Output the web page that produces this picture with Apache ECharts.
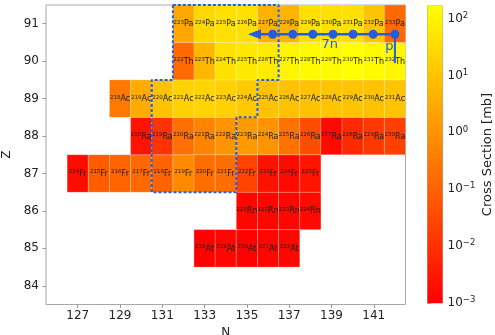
<!DOCTYPE html>
<html>
<head>
<meta charset="utf-8">
<script src="https://cdn.jsdelivr.net/npm/echarts@6/dist/echarts.min.js"></script>
<style>
  html, body { margin: 0; padding: 0; background: #fff; }
  #chart { width: 495px; height: 335px; }
</style>
</head>
<body>
<div id="chart"></div>
<script>
// Nuclide rows: element symbol, proton number Z, first neutron number N of the row,
// and the production cross sections [mb] for consecutive N.
const elements = ['At', 'Rn', 'Fr', 'Ra', 'Ac', 'Th', 'Pa'];
const protonNumbers = [85, 86, 87, 88, 89, 90, 91];
const firstNeutron = [133, 135, 127, 130, 129, 132, 132];

const sigmaAt = [0.0011, 0.0013, 0.0011, 0.0013, 0.0013];
const sigmaRn = [0.0013, 0.0014, 0.0013, 0.0016];
const sigmaFr = [0.0018, 0.076, 0.11, 0.14, 0.11, 0.66, 0.16, 0.18, 0.023, 0.0023, 0.0016, 0.0026];
const sigmaRa = [0.0023, 0.011, 0.20, 0.52, 1.07, 1.36, 1.07, 0.22, 0.037, 0.0016, 0.0068, 0.014, 0.020];
const sigmaAc = [0.28, 3.1, 9.3, 19, 21.5, 19, 13.3, 9.3, 9.3, 9.3, 10.5, 10.5, 9.3, 10.5];
const sigmaTh = [0.14, 5.7, 39, 56, 63, 103, 130, 130, 166, 130, 116];
const sigmaPa = [2.5, 27, 39, 39, 4.5, 5.1, 39, 39, 39, 10.5, 0.14];
const sigmaRows = [sigmaAt, sigmaRn, sigmaFr, sigmaRa, sigmaAc, sigmaTh, sigmaPa];

// Axis ticks and colour scale range
const nTicks = [127, 129, 131, 133, 135, 137, 139, 141];
const zTicks = [84, 85, 86, 87, 88, 89, 90, 91];
const cbTicks = [1e-3, 1e-2, 1e-1, 1, 10, 100];
const cbMin = 1e-3;
const cbMax = 166;

// Highlighted region outline, along cell boundaries
const outlineN = [131.5, 136.5, 136.5, 135.5, 135.5, 134.5, 134.5, 130.5, 130.5, 131.5, 131.5];
const outlineZ = [91.5, 91.5, 89.5, 89.5, 88.5, 88.5, 86.5, 86.5, 89.5, 89.5, 91.5];

// 233Pa decay path: neutron steps (7n) and the proton leg (p)
const chainN = [142, 140.97, 140.02, 139.07, 138.12, 137.17, 136.22];
const chainZ = 90.72;
const arrowTipN = 135.05;
const protonLegZ = 89.95;
const noteText = ['7n', 'p'];
const noteN = [138.92, 141.74];
const noteZ = [90.44, 90.385];

const BLUE = '#2060e0';
const FONT = 'DejaVu Sans';

// Flatten rows into cells: [N, Z, sigma, massNumber, symbol]
const cells = [];
sigmaRows.forEach((row, i) => {
  row.forEach((s, j) => {
    const n = firstNeutron[i] + j;
    const z = protonNumbers[i];
    cells.push([n, z, s, n + z, elements[i]]);
  });
});

// matplotlib "autumn" colormap on a log10 scale
const lgMin = Math.log10(cbMin), lgMax = Math.log10(cbMax);
function autumn(v) {
  let t = (Math.log10(v) - lgMin) / (lgMax - lgMin);
  t = Math.max(0, Math.min(1, t));
  return 'rgb(255,' + Math.round(255 * t) + ',0)';
}

function supLabel(v) {
  const e = Math.round(Math.log10(v));
  return '{b|10}{s|' + (e < 0 ? '\u2212' + (-e) : e) + '}';
}

const chart = echarts.init(document.getElementById('chart'), null, { renderer: 'canvas' });

const axisTickStyle = { show: true, inside: false, length: 3.5, lineStyle: { color: '#999', width: 1 } };

chart.setOption({
  animation: false,
  textStyle: { fontFamily: FONT },
  grid: [
    { left: 46, top: 5, width: 359.5, height: 299.5, outerBoundsMode: 'none', containLabel: false,
      show: true, borderColor: '#a8a8a8', borderWidth: 1, backgroundColor: '#fff' },
    { left: 427.5, top: 6, width: 15, height: 297, outerBoundsMode: 'none', containLabel: false,
      show: true, borderColor: '#a8a8a8', borderWidth: 1 }
  ],
  xAxis: [
    {
      gridIndex: 0, type: 'value', min: 125.5, max: 142.5,
      name: 'N', nameLocation: 'middle', nameGap: 15,
      nameTextStyle: { fontSize: 12, color: '#222', fontFamily: FONT },
      axisLine: { show: false }, splitLine: { show: false },
      axisTick: Object.assign({ customValues: nTicks }, axisTickStyle),
      axisLabel: { customValues: nTicks, fontSize: 12, color: '#222', margin: 5, fontFamily: FONT }
    },
    { gridIndex: 1, type: 'value', min: 0, max: 1, show: false }
  ],
  yAxis: [
    {
      gridIndex: 0, type: 'value', min: 83.5, max: 91.5,
      name: 'Z', nameLocation: 'middle', nameGap: 21, nameRotate: 90,
      nameTextStyle: { fontSize: 12, color: '#222', fontFamily: FONT },
      axisLine: { show: false }, splitLine: { show: false },
      axisTick: Object.assign({ customValues: zTicks }, axisTickStyle),
      axisLabel: { customValues: zTicks, fontSize: 12, color: '#222', margin: 7, fontFamily: FONT }
    },
    {
      gridIndex: 1, type: 'log', logBase: 10, min: cbMin, max: cbMax, position: 'right',
      name: 'Cross Section [mb]', nameLocation: 'middle', nameGap: 39, nameRotate: 90,
      nameTextStyle: { fontSize: 13, color: '#222', fontFamily: FONT },
      axisLine: { show: false }, splitLine: { show: false },
      axisTick: Object.assign({ customValues: cbTicks }, axisTickStyle),
      axisLabel: {
        customValues: cbTicks, margin: 5, formatter: supLabel,
        rich: {
          b: { fontSize: 12, lineHeight: 15, color: '#222', fontFamily: FONT },
          s: { fontSize: 8.5, lineHeight: 9, verticalAlign: 'top', color: '#222', fontFamily: FONT }
        }
      }
    }
  ],
  series: [
    {
      // nuclide cells
      type: 'custom', xAxisIndex: 0, yAxisIndex: 0,
      data: cells.map(c => [c[0], c[1], c[2]]),
      renderItem(params, api) {
        const c = cells[params.dataIndex];
        const n = api.value(0), z = api.value(1), s = api.value(2);
        const p0 = api.coord([n - 0.5, z + 0.5]);
        const p1 = api.coord([n + 0.5, z - 0.5]);
        return {
          type: 'group',
          children: [
            {
              type: 'rect',
              shape: { x: p0[0], y: p0[1], width: p1[0] - p0[0], height: p1[1] - p0[1] },
              style: { fill: autumn(s), stroke: 'rgba(255,255,255,0.35)', lineWidth: 0.6 }
            },
            {
              type: 'text',
              x: (p0[0] + p1[0]) / 2, y: (p0[1] + p1[1]) / 2 + 0.5,
              style: {
                text: '{m|' + c[3] + '}{e|' + c[4] + '}',
                align: 'center', verticalAlign: 'middle',
                rich: {
                  m: { fontSize: 5.5, lineHeight: 5, verticalAlign: 'top', fill: '#1a1a1a', fontFamily: FONT },
                  e: { fontSize: 8, lineHeight: 10, fill: '#1a1a1a', fontFamily: FONT }
                }
              }
            }
          ]
        };
      }
    },
    {
      // highlighted region outline
      type: 'line', xAxisIndex: 0, yAxisIndex: 0, clip: false,
      data: outlineN.map((n, i) => [n, outlineZ[i]]),
      symbol: 'none', silent: true,
      lineStyle: { color: BLUE, width: 2, type: [3, 2] },
      z: 5
    },
    {
      // decay arrow, proton leg and annotations
      type: 'custom', xAxisIndex: 0, yAxisIndex: 0, clip: false,
      data: [[chainN[0], chainZ]],
      renderItem(params, api) {
        const start = api.coord([chainN[0], chainZ]);
        const tip = api.coord([arrowTipN, chainZ]);
        const leg = api.coord([chainN[0], protonLegZ]);
        const headLen = 13, headHalf = 5;
        const children = [
          {
            type: 'line',
            shape: { x1: start[0], y1: start[1], x2: tip[0] + headLen - 1, y2: tip[1] },
            style: { stroke: BLUE, lineWidth: 2.5 }
          },
          {
            type: 'polygon',
            shape: { points: [[tip[0], tip[1]], [tip[0] + headLen, tip[1] - headHalf], [tip[0] + headLen, tip[1] + headHalf]] },
            style: { fill: BLUE }
          },
          {
            type: 'line',
            shape: { x1: start[0], y1: start[1], x2: leg[0], y2: leg[1] },
            style: { stroke: BLUE, lineWidth: 2 }
          }
        ];
        noteText.forEach((t, i) => {
          const p = api.coord([noteN[i], noteZ[i]]);
          children.push({
            type: 'text', x: p[0], y: p[1],
            style: { text: t, align: 'center', verticalAlign: 'middle', fontSize: 13, fill: BLUE, fontFamily: FONT }
          });
        });
        return { type: 'group', children };
      },
      z: 6
    },
    {
      // decay steps
      type: 'scatter', xAxisIndex: 0, yAxisIndex: 0,
      data: chainN.map(n => [n, chainZ]),
      symbol: 'circle', symbolSize: 9,
      itemStyle: { color: BLUE, opacity: 1 },
      silent: true, z: 7
    },
    {
      // colour bar
      type: 'custom', xAxisIndex: 1, yAxisIndex: 1,
      data: [[0, cbMin]],
      renderItem(params, api) {
        const top = api.coord([0, cbMax]);
        const bottom = api.coord([1, cbMin]);
        return {
          type: 'rect',
          shape: { x: top[0], y: top[1], width: bottom[0] - top[0], height: bottom[1] - top[1] },
          style: {
            fill: new echarts.graphic.LinearGradient(0, 0, 0, 1, [
              { offset: 0, color: autumn(cbMax) },
              { offset: 1, color: autumn(cbMin) }
            ])
          }
        };
      }
    }
  ]
});
</script>
</body>
</html>
